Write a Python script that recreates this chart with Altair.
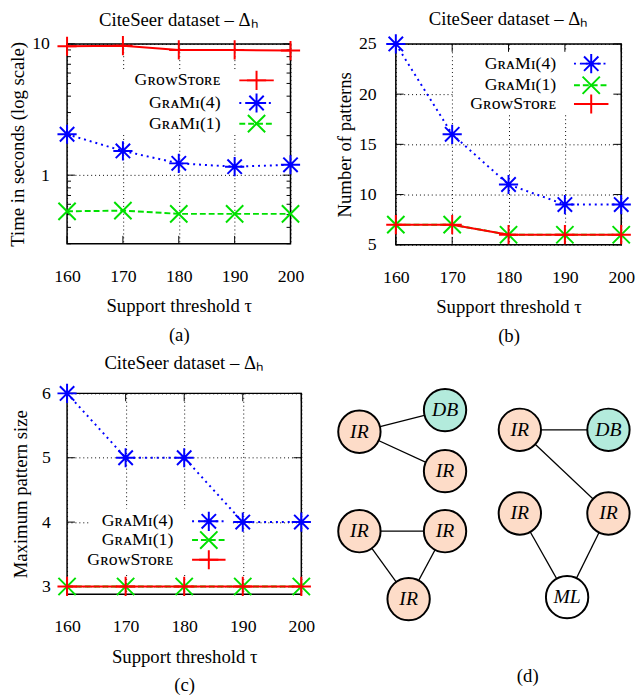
import altair as alt
import pandas as pd

FONT = "Liberation Serif"
FS = 19
LFS = 18
KFS = 18

# ---------------- data ----------------
tau = [160, 170, 180, 190, 200]

time_growstore = [9.6, 9.7, 9.0, 9.0, 8.9]
time_grami4 = [2.05, 1.53, 1.23, 1.16, 1.2]
time_grami1 = [0.53, 0.537, 0.507, 0.507, 0.507]

patterns_grami4 = [25, 16, 11, 9, 9]
patterns_grami1 = [7, 7, 6, 6, 6]
patterns_growstore = [7, 7, 6, 6, 6]

maxsize_grami4 = [6, 5, 5, 4, 4]
maxsize_grami1 = [3, 3, 3, 3, 3]
maxsize_growstore = [3, 3, 3, 3, 3]

label_growstore = "GʀᴏᴡSᴛᴏʀᴇ"
label_grami4 = "GʀᴀMɪ(4)"
label_grami1 = "GʀᴀMɪ(1)"

time_major = [1, 10]
time_minor = [0.3, 0.4, 0.5, 0.6, 0.7, 0.8, 0.9, 2, 3, 4, 5, 6, 7, 8, 9]
patterns_major = [5, 10, 15, 20, 25]
maxsize_major = [3, 4, 5, 6]

title_text = "CiteSeer dataset – Δₕ"
x_title = "Support threshold τ"

# graph patterns (panel d)
node_id = ["a1", "a2", "a3", "b1", "b2", "b3", "c1", "c2", "c3", "c4", "c5"]
node_label = ["IR", "DB", "IR", "IR", "IR", "IR", "IR", "DB", "IR", "IR", "ML"]
node_x = [28, 115, 115, 28, 115, 78, 191, 281, 191, 281, 239]
node_y = [39, 17, 79, 140, 140, 209, 37, 37, 122, 122, 207]
edge_from = ["a1", "a1", "b1", "b1", "b2", "c1", "c1", "c3", "c4"]
edge_to = ["a2", "a3", "b2", "b3", "b3", "c2", "c4", "c5", "c5"]
label_fill = {"IR": "#fddcc8", "DB": "#b3ebdc", "ML": "#ffffff"}

# ---------------- styles ----------------
PLUS = "M-1,0L1,0M0,-1L0,1"
STAR = "M-1,0L1,0M0,-1L0,1M-0.75,-0.75L0.75,0.75M-0.75,0.75L0.75,-0.75"
CROSS = "M-0.9,-0.9L0.9,0.9M-0.9,0.9L0.9,-0.9"
STYLES = {
    "growstore": ("#ff0000", None, PLUS),
    "grami4": ("#0000ff", [2, 4], STAR),
    "grami1": ("#00e000", [6, 3], CROSS),
}
MSIZE = 380


def line_mark(key):
    color, dash, _ = STYLES[key]
    kw = dict(color=color, strokeWidth=2)
    if dash:
        kw["strokeDash"] = dash
    return kw


def point_mark(key):
    color, _, shape = STYLES[key]
    return dict(shape=shape, color=color, size=MSIZE, strokeWidth=2, filled=False, opacity=1)


def panel(series, yscale, major, minor, ytitle, caption, w, h, legend, box,
          ytp, ylp, toff):
    x_enc = alt.X("tau:Q", scale=alt.Scale(domain=[160, 200], nice=False, zero=False),
                  axis=alt.Axis(values=tau, title=[x_title, caption], grid=True,
                                gridDash=[1, 3], gridColor="black", gridOpacity=1,
                                ticks=False, domain=False, labelPadding=24,
                                titlePadding=12, titleLineHeight=29,
                                labelFlush=False, labelOverlap=False))
    y_enc = alt.Y("value:Q", scale=yscale,
                  axis=alt.Axis(values=major, title=ytitle, grid=True, format="~g",
                                gridDash=[1, 3], gridColor="black", gridOpacity=1,
                                ticks=False, domain=False, labelPadding=ylp,
                                titlePadding=ytp, labelFlush=False, labelOverlap=False))
    one = pd.DataFrame({"k": [0]})
    layers = []
    # opaque key box
    layers.append(alt.Chart(one).mark_rect(color="white").encode(
        x=alt.value(box[0]), x2=alt.value(box[1]), y=alt.value(box[2]), y2=alt.value(box[3])))
    # inward ticks
    xt = pd.DataFrame({"tau": tau})
    layers.append(alt.Chart(xt).mark_rule(color="black", strokeWidth=1).encode(
        x=x_enc, y=alt.value(0), y2=alt.value(8)))
    layers.append(alt.Chart(xt).mark_rule(color="black", strokeWidth=1).encode(
        x=x_enc, y=alt.value(h - 8), y2=alt.value(h)))
    for vals, ln in ((major, 8), (minor, 4)):
        if not vals:
            continue
        yt = pd.DataFrame({"value": vals})
        layers.append(alt.Chart(yt).mark_rule(color="black", strokeWidth=1).encode(
            y=y_enc, x=alt.value(0), x2=alt.value(ln)))
        layers.append(alt.Chart(yt).mark_rule(color="black", strokeWidth=1).encode(
            y=y_enc, x=alt.value(w - ln), x2=alt.value(w)))
    # data series
    for key, label, vals in series:
        df = pd.DataFrame({"tau": tau, "value": vals})
        layers.append(alt.Chart(df).mark_line(**line_mark(key)).encode(x=x_enc, y=y_enc))
        layers.append(alt.Chart(df).mark_point(**point_mark(key)).encode(x=x_enc, y=y_enc))
    # key
    tx, lx1, lx2, ys = legend
    for (key, label, _), ty in zip(series, ys):
        ldf = pd.DataFrame({"label": [label]})
        layers.append(alt.Chart(ldf).mark_text(align="right", baseline="middle", font=FONT,
                                               fontSize=KFS, color="black").encode(
            x=alt.value(tx), y=alt.value(ty), text="label:N"))
        layers.append(alt.Chart(ldf).mark_rule(**line_mark(key)).encode(
            x=alt.value(lx1), x2=alt.value(lx2), y=alt.value(ty)))
        layers.append(alt.Chart(ldf).mark_point(**point_mark(key)).encode(
            x=alt.value((lx1 + lx2) / 2), y=alt.value(ty)))
    return alt.layer(*layers).properties(
        width=w, height=h,
        title=alt.Title(title_text, font=FONT, fontSize=FS, fontWeight="normal",
                        color="black", frame="group", offset=toff))


chart_a = panel(
    [("growstore", label_growstore, time_growstore),
     ("grami4", label_grami4, time_grami4),
     ("grami1", label_grami1, time_grami1)],
    alt.Scale(type="log", domain=[0.3, 10], nice=False),
    time_major, time_minor, "Time in seconds (log scale)", "(a)", 227, 203,
    (156, 175, 210, [37, 60, 81]), (53, 215, 28, 91), 4, 18, 2)

chart_b = panel(
    [("grami4", label_grami4, patterns_grami4),
     ("grami1", label_grami1, patterns_grami1),
     ("growstore", label_growstore, patterns_growstore)],
    alt.Scale(domain=[5, 25], nice=False, zero=False),
    patterns_major, [], "Number of patterns", "(b)", 229, 204,
    (163, 181, 216, [20, 42, 61]), (58, 223, 8, 72), 4, 20, 2)

chart_c = panel(
    [("grami4", label_grami4, maxsize_grami4),
     ("grami1", label_grami1, maxsize_grami1),
     ("growstore", label_growstore, maxsize_growstore)],
    alt.Scale(domain=[2.88, 6], nice=False, zero=False),
    maxsize_major, [], "Maximum pattern size", "(c)", 238, 204,
    (108, 127, 161, [130, 149, 169]), (24, 166, 117, 182), 11, 17, 7)

# ---------------- panel d ----------------
pos = {n: (x, y) for n, x, y in zip(node_id, node_x, node_y)}
edges = pd.DataFrame({
    "x": [pos[a][0] for a in edge_from], "y": [pos[a][1] for a in edge_from],
    "x2": [pos[b][0] for b in edge_to], "y2": [pos[b][1] for b in edge_to],
})
nodes = pd.DataFrame({"x": node_x, "y": node_y, "label": node_label,
                      "fill": [label_fill[l] for l in node_label]})
DW, DH = 306, 298
dx = alt.Scale(domain=[0, DW], nice=False, zero=False)
dy = alt.Scale(domain=[0, DH], nice=False, zero=False, reverse=True)
edge_layer = alt.Chart(edges).mark_rule(color="black", strokeWidth=1.3).encode(
    x=alt.X("x:Q", scale=dx, axis=None), y=alt.Y("y:Q", scale=dy, axis=None),
    x2="x2:Q", y2="y2:Q")
node_layer = alt.Chart(nodes).mark_point(shape="circle", filled=True, size=1850,
                                         stroke="black", strokeWidth=2, opacity=1).encode(
    x=alt.X("x:Q", scale=dx, axis=None), y=alt.Y("y:Q", scale=dy, axis=None),
    fill=alt.Fill("fill:N", scale=None))
text_layer = alt.Chart(nodes).mark_text(font=FONT, fontSize=20, fontStyle="italic",
                                        color="black").encode(
    x=alt.X("x:Q", scale=dx, axis=None), y=alt.Y("y:Q", scale=dy, axis=None),
    text="label:N")
cap = pd.DataFrame({"x": [199], "y": [287], "label": ["(d)"]})
cap_layer = alt.Chart(cap).mark_text(font=FONT, fontSize=FS, color="black").encode(
    x=alt.X("x:Q", scale=dx, axis=None), y=alt.Y("y:Q", scale=dy, axis=None),
    text="label:N")
chart_d = alt.layer(edge_layer, node_layer, text_layer, cap_layer).properties(
    width=DW, height=DH, view=alt.ViewBackground(stroke="transparent"))

top = alt.hconcat(chart_a, chart_b, spacing=30)
bottom = alt.hconcat(chart_c, chart_d, spacing=15)
chart = alt.vconcat(top, bottom, spacing=7).properties(
    padding={"top": -5, "left": 0, "right": 0, "bottom": 0}
).configure_axis(
    labelFont=FONT, labelFontSize=LFS, labelColor="black",
    titleFont=FONT, titleFontSize=FS, titleFontWeight="normal", titleColor="black"
).configure_view(stroke="black", strokeWidth=1.5)

chart.save("out.html", embed_options={"renderer": "svg", "actions": False})
